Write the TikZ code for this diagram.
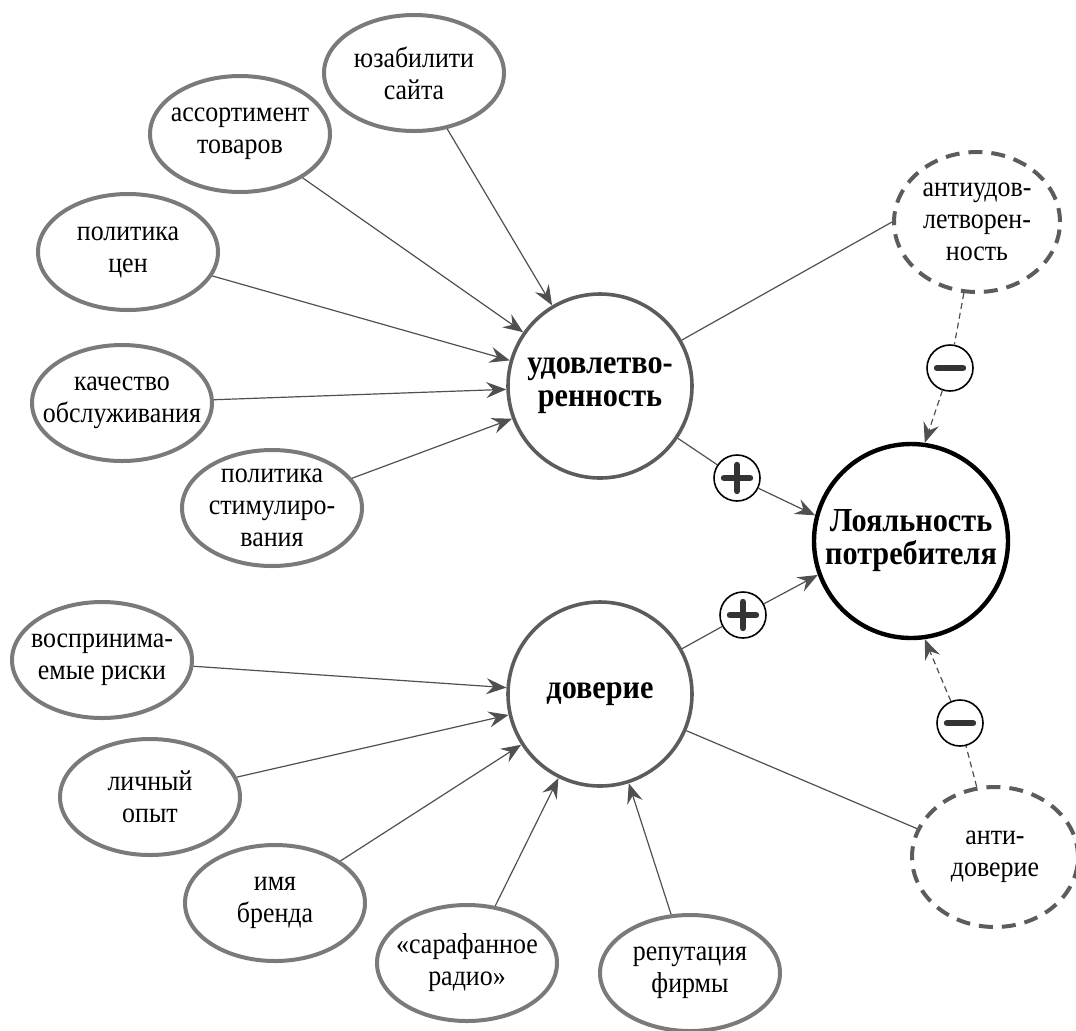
\documentclass[tikz,border=0pt]{standalone}
\usepackage{fontspec}
\setmainfont{Liberation Serif}
\newfontfamily\timesfont[FakeStretch=0.9]{Liberation Serif}
\usetikzlibrary{shapes.geometric,arrows.meta}
\definecolor{linegray}{HTML}{505050}
\definecolor{rimgray}{HTML}{7A7A7A}
\definecolor{maingray}{HTML}{5C5C5C}
\newcommand{\labelfont}{\timesfont\fontsize{14.4}{16}\selectfont}
\newcommand{\corefont}{\timesfont\fontsize{16.8}{16.5}\selectfont\bfseries}
\tikzstyle{factor} = [ellipse, draw=rimgray, line width=2pt, minimum width=90pt, minimum height=58pt, inner sep=-8pt, align=center]
\tikzstyle{core} = [circle, draw=maingray, line width=1.8pt, minimum size=92pt, inner sep=0pt, align=center, font=\corefont]
\tikzstyle{target} = [circle, draw=black, line width=2.2pt, minimum size=97pt, inner sep=0pt, align=center, font=\corefont]
\tikzstyle{anti} = [ellipse, draw=maingray, line width=2pt, dash pattern=on 7pt off 4.5pt, minimum width=83pt, minimum height=70pt, inner sep=-8pt, align=center]
\tikzstyle{sign} = [circle, draw=black, line width=0.8pt, minimum size=23pt, inner sep=0pt, fill=white]
\tikzstyle{plus} = [sign, path picture={
    \draw[line width=3.2pt, line cap=round, black!80] (path picture bounding box.center) ++(-6.5pt,0pt) -- ++(13pt,0pt);
    \draw[line width=3.2pt, line cap=round, black!80] (path picture bounding box.center) ++(0pt,-6.5pt) -- ++(0pt,13pt);}]
\tikzstyle{minus} = [sign, path picture={
    \draw[line width=3.2pt, line cap=round, black!80] (path picture bounding box.center) ++(-6.5pt,0pt) -- ++(13pt,0pt);}]
\tikzstyle{link} = [line width=0.6pt, draw=linegray]
\tikzstyle{arrow} = [link, -{Stealth[length=10pt,width=8pt,inset=3.5pt]}]
\tikzstyle{neglink} = [link, dash pattern=on 3pt off 2pt]
\tikzstyle{negarrow} = [neglink, -{Stealth[length=10pt,width=8pt,inset=3.5pt]}]

\begin{document}
\begin{tikzpicture}[x=0.5pt, y=-0.5pt, font=\labelfont]
    \useasboundingbox (0,0) rectangle (1076,1030);

    % main circles
    \node (sat) [core] at (600,386) {удовлетво-\\ренность};
    \node (trust) [core] at (600,694) {доверие};
    \node (loy) [target] at (911,541) {Лояльность\\потребителя};
    \node (anti1) [anti] at (977,222) {антиудов-\\летворен-\\ность};
    \node (anti2) [anti] at (995,857) {анти-\\доверие};

    % factors of satisfaction
    \node (usab) [factor] at (414,73) {юзабилити\\сайта};
    \node (assort) [factor] at (240,134) {ассортимент\\товаров};
    \node (price) [factor] at (128,252) {политика\\цен};
    \node (service) [factor] at (122,403) {качество\\обслуживания};
    \node (promo) [factor] at (272,508) {политика\\стимулиро-\\вания};

    % factors of trust
    \node (risk) [factor] at (102,660) {воспринима-\\емые риски};
    \node (exper) [factor] at (150,797) {личный\\опыт};
    \node (brand) [factor] at (275,903) {имя\\бренда};
    \node (radio) [factor] at (467,963) {«сарафанное\\радио»};
    \node (repute) [factor] at (690,973) {репутация\\фирмы};

    % signs
    \node (p1) [plus] at (737,478) {};
    \node (p2) [plus] at (743,615) {};
    \node (m1) [minus] at (950,368) {};
    \node (m2) [minus] at (960,723) {};

    % Add arrows connecting the nodes
    \draw [arrow] (usab) -- (sat);
    \draw [arrow] (assort) -- (sat);
    \draw [arrow] (price) -- (sat);
    \draw [arrow] (service) -- (sat);
    \draw [arrow] (promo) -- (sat);

    \draw [arrow] (risk) -- (trust);
    \draw [arrow] (exper) -- (trust);
    \draw [arrow] (brand) -- (trust);
    \draw [arrow] (radio) -- (trust);
    \draw [arrow] (repute) -- (trust);

    \draw [link] (sat) -- (p1);
    \draw [arrow] (p1) -- (loy.165);
    \draw [link] (trust) -- (p2);
    \draw [arrow] (p2) -- (loy.200);

    \draw [link] (sat) -- (anti1.west);
    \draw [link] (trust) -- (anti2.160);

    \draw [neglink] (anti1) -- (m1);
    \draw [negarrow] (m1) -- (loy.82);
    \draw [neglink] (anti2) -- (m2);
    \draw [negarrow] (m2) -- (loy.278);
\end{tikzpicture}
\end{document}
